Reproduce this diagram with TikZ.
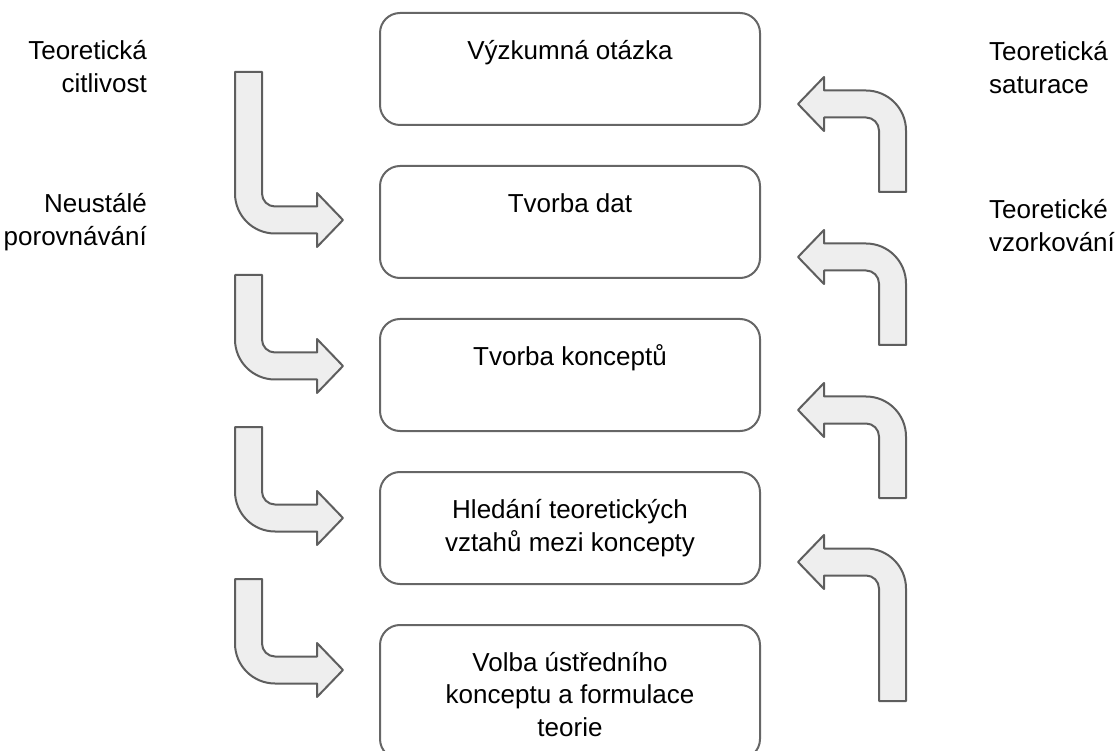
\documentclass[tikz,border=0pt]{standalone}
\usepackage{fontspec}
\setmainfont{Liberation Sans}
\usetikzlibrary{positioning}

\definecolor{boxline}{HTML}{666666}
\definecolor{arrowfill}{HTML}{EEEEEE}
\definecolor{arrowline}{HTML}{5E5E5E}

\begin{document}
\begin{tikzpicture}[
    x=1pt, y=1pt,
    node distance=39pt,
    stage/.style={rectangle, rounded corners=20pt, draw=boxline, line width=2pt, minimum width=380pt, minimum height=112pt},
    stagetext/.style={align=center, anchor=base, inner sep=0pt, font=\fontsize{26}{32.5}\selectfont},
    side/.style={inner sep=0pt, font=\fontsize{26}{33}\selectfont},
    turnarrow/.style={fill=arrowfill, draw=arrowline, line width=2pt, line join=round},
    pics/bendin/.style={code={
        \filldraw[turnarrow] (-81,#1) -- (-81,26.5) arc[start angle=180, end angle=270, radius=13]
            -- (-26,13.5) -- (-26,27) -- (0,0) -- (-26,-27) -- (-26,-13.5)
            -- (-68,-13.5) arc[start angle=270, end angle=180, radius=40]
            -- (-108,#1) -- cycle;
    }},
    pics/bendback/.style={code={
        \filldraw[turnarrow] (0,0) -- (26,27) -- (26,13.5)
            -- (68,13.5) arc[start angle=90, end angle=0, radius=40]
            -- (108,-#1) -- (81,-#1)
            -- (81,-26.5) arc[start angle=0, end angle=90, radius=13]
            -- (26,-13.5) -- (26,-27) -- cycle;
    }}
]
\useasboundingbox (0,0) rectangle (1117,-751);

% etapy
\node[stage] (question) at (570,-69) {};
\node[stage, below=of question] (data) {};
\node[stage, below=of data] (concepts) {};
\node[stage, below=of concepts] (relations) {};
\node[stage, below=of relations, minimum height=134pt] (core) {};

% texty etap (base = posledni radek)
\node[stagetext] (question_txt) at ([yshift=-48pt]question.north) {Výzkumná otázka};
\node[stagetext] (data_txt) at ([yshift=-48pt]data.north) {Tvorba dat};
\node[stagetext] (concepts_txt) at ([yshift=-48pt]concepts.north) {Tvorba konceptů};
\node[stagetext] (relations_txt) at ([yshift=-80pt]relations.north) {Hledání teoretických\\vztahů mezi koncepty};
\node[stagetext] (core_txt) at ([yshift=-112pt]core.north) {Volba ústředního\\konceptu a formulace\\teorie};

% popisky vlevo
\node[side, align=right, anchor=base east] (sensitivity) at (147,-93) {Teoretická\\citlivost};
\node[side, align=right, anchor=base east] (comparison) at (147,-246) {Neustálé\\porovnávání};

% popisky vpravo
\node[side, align=left, anchor=base west] (saturation) at (989,-94) {Teoretická\\saturace};
\node[side, align=left, anchor=base west] (sampling) at (989,-252) {Teoretické\\vzorkování};

% sipky dolu
\pic at ([shift={(-36,-55)}]data.north west) {bendin=148};
\pic at ([shift={(-36,-48)}]concepts.north west) {bendin=91};
\pic at ([shift={(-36,-47)}]relations.north west) {bendin=91};
\pic at ([shift={(-36,-46)}]core.north west) {bendin=91};

% sipky nahoru
\pic at ([shift={(37,22)}]question.south east) {bendback=88};
\pic at ([shift={(37,22)}]data.south east) {bendback=88};
\pic at ([shift={(37,22)}]concepts.south east) {bendback=88};
\pic at ([shift={(37,23)}]relations.south east) {bendback=139};

\end{tikzpicture}
\end{document}
